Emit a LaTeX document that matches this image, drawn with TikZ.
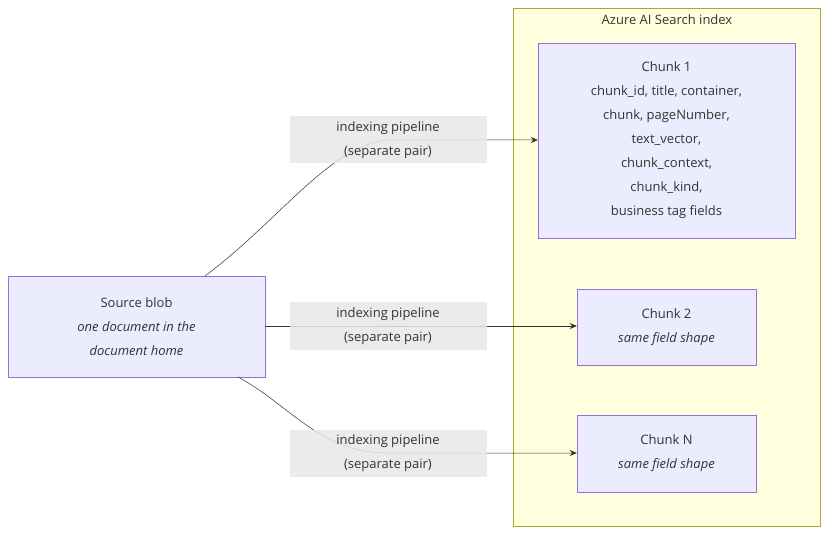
\documentclass[tikz,border=0pt]{standalone}
\usepackage{fontspec}
\setmainfont{Open Sans}
\usetikzlibrary{arrows.meta}
\definecolor{boxfill}{HTML}{ECECFF}
\definecolor{boxline}{HTML}{9370DB}
\definecolor{grpfill}{HTML}{FFFFDE}
\definecolor{grpline}{HTML}{AAAA33}
\definecolor{lblfill}{HTML}{E8E8E8}
\definecolor{txt}{HTML}{333333}
\tikzset{
  box/.style={draw=boxline, fill=boxfill, text=txt, align=center, inner sep=0pt},
  lbl/.style={fill=lblfill, fill opacity=0.85, text opacity=1, text=txt, align=center,
    minimum width=197pt, minimum height=47pt, inner sep=0pt},
  flow/.style={draw=txt, line width=0.5pt, -{Stealth[length=7pt,width=6pt]}}
}
\begin{document}
\begin{tikzpicture}[x=1pt,y=-1pt, font=\fontsize{13}{24}\selectfont]
\useasboundingbox (0,0) rectangle (836,540);

% ----------------------------------------------------------
% Search index group
% ----------------------------------------------------------
\draw[draw=grpline, fill=grpfill] (513,8) rectangle (820,526);
\node[text=txt] (grp) at (667,20) {Azure AI Search index};

% Chunks
\node[box, minimum width=257pt, minimum height=195pt] (c1) at (666.5,140.5)
  {Chunk 1\\chunk\_id, title, container,\\chunk, pageNumber,\\text\_vector,\\chunk\_context,\\chunk\_kind,\\business tag fields};
\node[box, minimum width=179pt, minimum height=76pt] (c2) at (666.5,327)
  {Chunk 2\\\textit{same field shape}};
\node[box, minimum width=179pt, minimum height=77pt] (cn) at (666.5,453.5)
  {Chunk N\\\textit{same field shape}};

% ----------------------------------------------------------
% Source
% ----------------------------------------------------------
\node[box, minimum width=257pt, minimum height=101pt] (src) at (136.5,326.5)
  {Source blob\\\textit{one document in the}\\\textit{document home}};

% Pipelines
\coordinate (p1) at (388,140);
\coordinate (p2) at (388,326);
\coordinate (p3) at (388,453);
\draw[flow] (205,276) .. controls (280,220) and (330,145) .. (p1) -- (c1.west |- p1);
\draw[flow] (src.east |- p2) -- (c2.west |- p2);
\draw[flow] (238,377) .. controls (290,405) and (320,453) .. (p3) -- (cn.west |- p3);
\node[lbl] (l1) at (p1) {indexing pipeline\\(separate pair)};
\node[lbl] (l2) at (p2) {indexing pipeline\\(separate pair)};
\node[lbl] (l3) at (p3) {indexing pipeline\\(separate pair)};
\end{tikzpicture}
\end{document}
